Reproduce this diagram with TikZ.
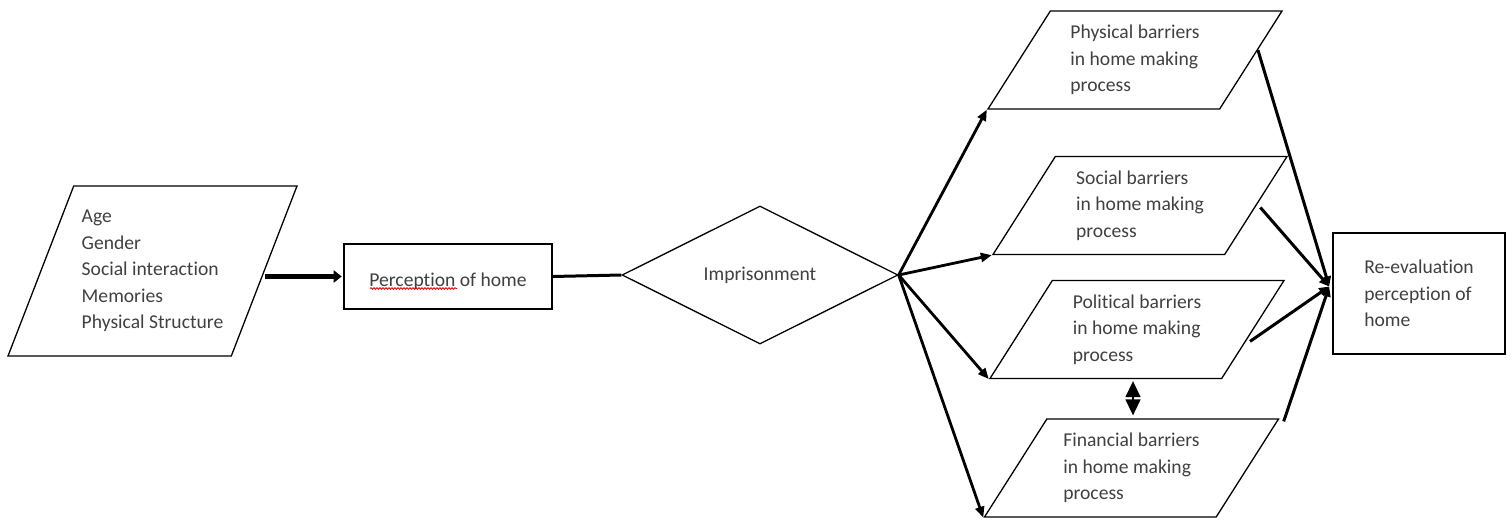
\documentclass[tikz,border=0pt]{standalone}
\usepackage{fontspec}
\setmainfont{Carlito}[Ligatures=NoCommon]
\usetikzlibrary{shapes.geometric,arrows.meta,positioning,calc,decorations.pathmorphing}

\definecolor{textgray}{RGB}{64,64,64}
\tikzstyle{txt} = [font=\fontsize{19.6}{26.5}\selectfont, text=textgray, align=left]
\tikzstyle{slanted} = [trapezium, trapezium stretches body, draw=black, line width=1.3pt, inner sep=2pt, txt]
\tikzstyle{inputbox} = [slanted, trapezium left angle=62.4, trapezium right angle=117.6, minimum width=289pt, minimum height=170pt]
\tikzstyle{barrier} = [slanted, trapezium left angle=49.8, trapezium right angle=130.2, minimum width=294pt, minimum height=98pt]
\tikzstyle{process} = [rectangle, draw=black, line width=1.6pt, txt]
\tikzstyle{decision} = [diamond, aspect=2, draw=black, line width=1.3pt, minimum width=276pt, minimum height=138pt, inner sep=0pt, txt]
\tikzstyle{thickarrow} = [line width=5pt, -{Triangle[length=8pt,width=12pt]}, shorten >=1.5pt]
\tikzstyle{arrow} = [line width=2.8pt, -{Triangle[length=11pt,width=9pt]}]
\tikzstyle{merge} = [line width=3pt, -{Triangle[length=10pt,width=9pt]}]
\tikzstyle{both} = [line width=1.5pt, {Triangle[length=16pt,width=15pt]}-{Triangle[length=16pt,width=15pt]}]
\tikzstyle{spell} = [draw=red!85!black, line width=0.8pt, decorate, decoration={snake, amplitude=0.8pt, segment length=3pt}]

\begin{document}
\begin{tikzpicture}[x=1pt, y=-1pt, node distance=300pt]
	\useasboundingbox (0,0) rectangle (1512,521);
	% Place nodes
	\node [inputbox] (input) at (152.5,271) {Age\\Gender\\Social interaction\\Memories\\Physical Structure};
	\node [process, minimum width=208pt, minimum height=65pt, right of=input, xshift=-4.5pt, yshift=-5.5pt] (percep) {\raisebox{-4.5pt}[\height][\depth]{Perception of home}};
	\node [decision, right of=percep, xshift=12pt, yshift=1.5pt] (imp) {Imprisonment};
	\node [barrier] (phys) at (1135,60) {Physical barriers\\in home making\\process};
	\node [barrier, node distance=140pt, below of=phys, xshift=5pt, yshift=-5.5pt] (soc) {Social barriers\\in home making\\process};
	\node [barrier, node distance=140pt, below of=soc, xshift=-3pt, yshift=16pt] (pol) {Political barriers\\in home making\\process};
	\node [barrier, node distance=140pt, below of=pol, xshift=-5.5pt, yshift=1.5pt] (fin) {Financial barriers\\in home making\\process};
	\node [process, minimum width=172pt, minimum height=121pt] (reeval) at (1419,293.5) {Re-evaluation\\perception of\\home};
	\coordinate (hub) at ([xshift=-3pt,yshift=7pt]reeval.west);
	\draw [spell] ([shift={(-78,12)}]percep.center) -- ++(87,0);
	% Draw edges
	\draw [thickarrow] (input.east |- percep.west) -- (percep.west);
	\draw [line width=3pt] (percep.east) -- (imp.west);
	\draw [arrow] (imp.east) -- (phys.bottom left corner);
	\draw [arrow] (imp.east) -- (soc.bottom left corner);
	\draw [arrow] (imp.east) -- (pol.bottom left corner);
	\draw [arrow] (imp.east) -- (fin.bottom left corner);
	\draw [both] ($(pol.center |- pol.bottom left corner)+(-4,2)$) -- ($(pol.center |- fin.top left corner)+(-4,-3)$);
	\draw [merge] ($(phys.top right corner)!0.4!(phys.bottom right corner)$) -- (hub);
	\draw [merge] ($(soc.top right corner)!0.52!(soc.bottom right corner)+(5,0)$) -- (hub);
	\draw [merge] ($(pol.top right corner)!0.62!(pol.bottom right corner)+(4,0)$) -- (hub);
	\draw [merge] ($(fin.top right corner)+(4,3)$) -- (hub);
\end{tikzpicture}
\end{document}
